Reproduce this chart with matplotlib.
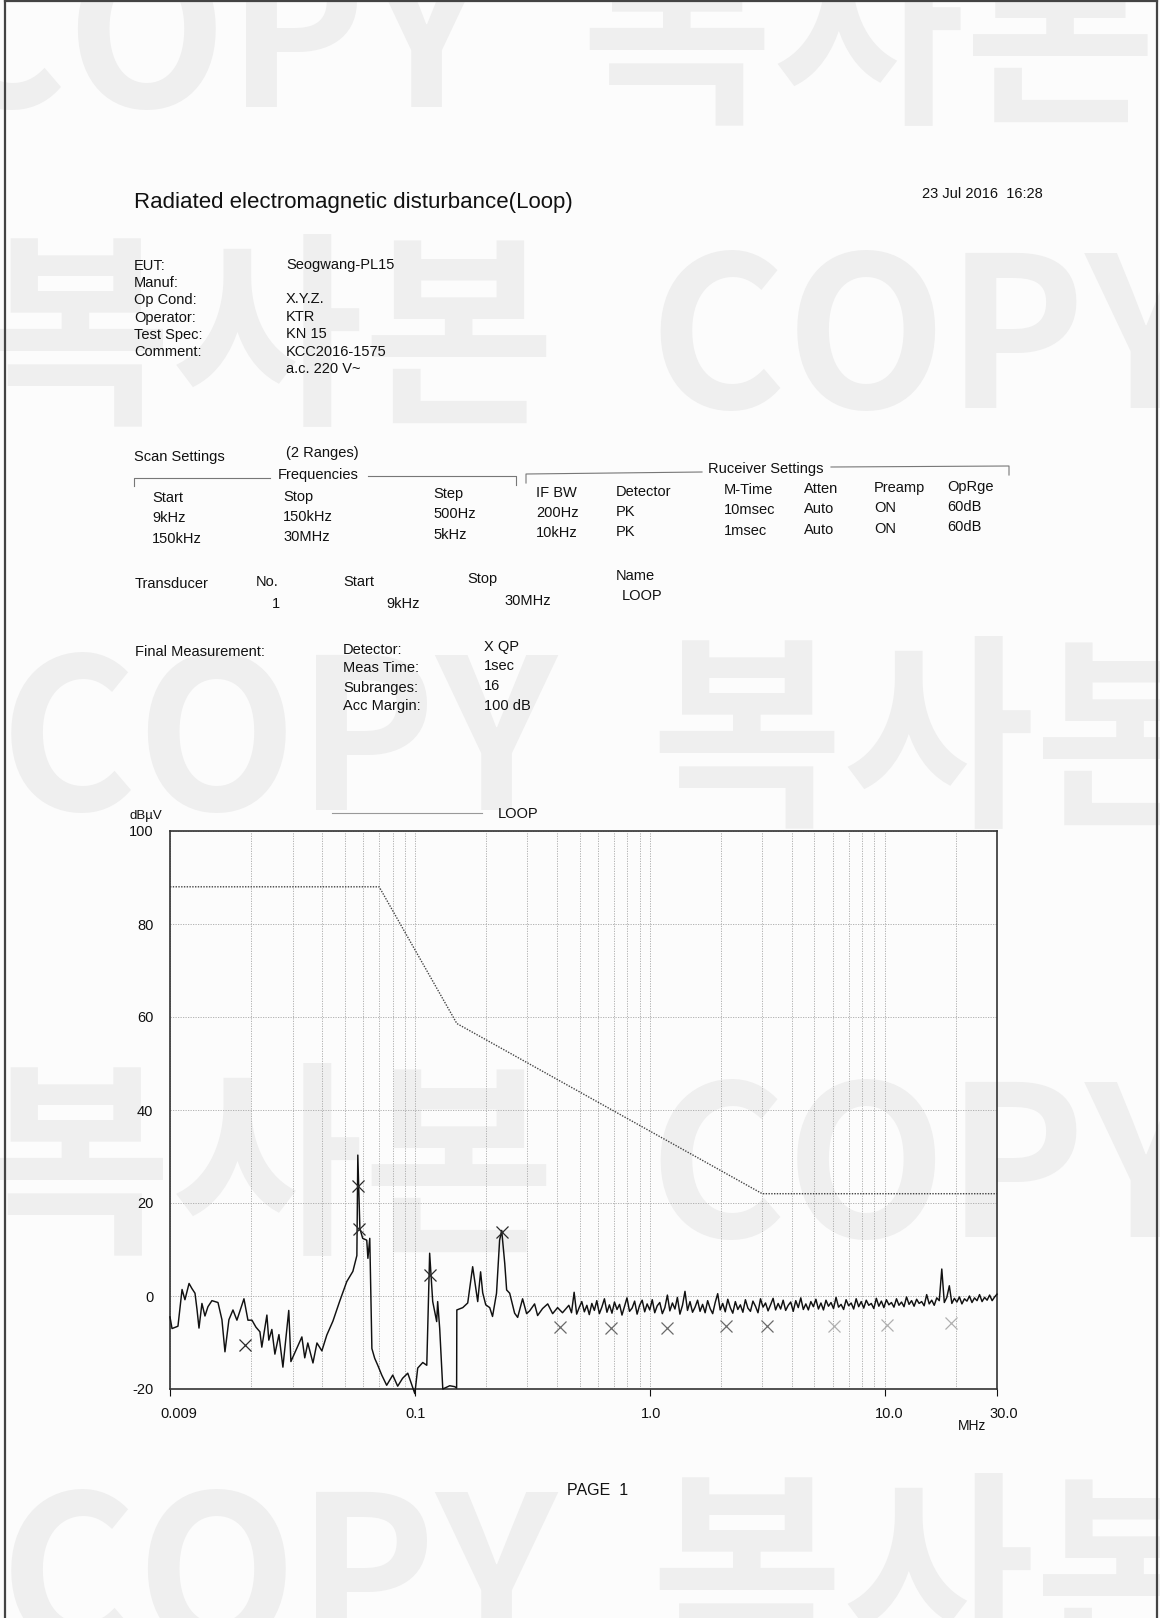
import matplotlib
matplotlib.use("Agg")
import numpy as np
import matplotlib.pyplot as plt
from matplotlib.lines import Line2D
from matplotlib.ticker import FixedLocator, LogLocator, NullFormatter
from matplotlib.transforms import ScaledTranslation

W, H = 1160, 1618
FONT = "Liberation Sans"

# receiver trace, range 1 (9 kHz - 150 kHz), PK detector
scan1_khz = [9.0, 9.18, 9.73, 10.13, 10.42, 10.85, 11.16, 11.5, 11.73, 11.96,
             12.31, 12.68, 13.06, 13.58, 14.41, 14.98, 15.43, 16.04, 16.69, 17.35,
             18.59, 19.33, 20.11, 20.91, 21.74, 22.15, 23.28, 23.72, 24.44, 25.18,
             26.2, 27.24, 28.85, 29.46, 30.93, 32.81, 33.75, 34.78, 36.58, 38.04,
             39.92, 41.9, 44.49, 47.56, 50.96, 54.11, 56.27, 56.79, 57.96, 59.58,
             62.0, 62.7, 63.86, 65.2, 67.02, 69.07, 71.82, 75.38, 80.01, 83.97,
             88.11, 92.7, 99.36, 102.2, 107.4, 111.7, 114.9, 118.4, 123.1, 124.3,
             126.8, 130.7, 139.9, 147.0, 149.7]
scan1_dbuv = [-4.5, -7.0, -6.5, 1.4, -0.8, 2.7, 1.6, 0.6, -2.9, -6.9,
              -1.6, -4.3, -2.3, -1.0, -1.4, -5.1, -12.0, -5.1, -3.0, -5.2,
              -0.6, -5.2, -5.2, -6.7, -7.7, -11.0, -4.1, -9.5, -7.2, -12.5,
              -8.3, -15.3, -3.1, -14.1, -11.7, -8.8, -13.3, -10.1, -14.4, -10.1,
              -11.8, -8.4, -5.4, -1.1, 3.1, 5.3, 8.7, 30.3, 14.5, 12.4,
              12.0, 8.1, 12.4, -11.3, -13.4, -14.9, -17.0, -19.2, -17.0, -19.4,
              -17.7, -16.6, -21.0, -15.5, -14.3, -14.9, 9.2, -1.2, -5.5, -1.2,
              -7.0, -20.0, -19.3, -19.5, -19.8]

# receiver trace, range 2 (150 kHz - 30 MHz), PK detector
scan2_khz = [150.0, 159.0, 166.9, 175.2, 182.2, 184.1, 189.4, 193.3, 199.2, 207.1,
             212.9, 221.4, 228.2, 232.9, 240.0, 244.5, 251.9, 264.4, 272.4, 285.9,
             297.4, 306.4, 321.6, 331.3, 347.8, 365.8, 383.9, 403.0, 422.9,
             450, 462, 474, 486, 498, 511, 524, 537, 550, 564,
             578, 592, 607, 622, 638, 654, 670, 687, 704, 722,
             740, 758, 777, 796, 816, 837, 858, 879, 901, 924,
             947, 970, 995, 1020, 1045, 1071, 1098, 1126, 1154, 1183,
             1212, 1243, 1274, 1305, 1338, 1372, 1406, 1441, 1477, 1514,
             1552, 1591, 1630, 1671, 1713, 1756, 1800, 1845, 1891, 1938,
             1986, 2036, 2087, 2139, 2193, 2247, 2304, 2361, 2420, 2481,
             2543, 2606, 2672, 2738, 2807, 2877, 2949, 3023, 3098, 3176,
             3255, 3337, 3420, 3506, 3593, 3683, 3775, 3870, 3966, 4066,
             4167, 4271, 4378, 4488, 4600, 4715, 4833, 4954, 5078, 5205,
             5335, 5468, 5605, 5745, 5889, 6036, 6187, 6342, 6500, 6663,
             6829, 7000, 7175, 7354, 7538, 7727, 7920, 8118, 8321, 8529,
             8742, 8961, 9185, 9415, 9650, 9891, 10139, 10392, 10652, 10918,
             11191, 11471, 11758, 12052, 12353, 12662, 12978, 13303, 13635, 13976,
             14326, 14684, 15051, 15427, 15813, 16208, 16613, 17029, 17455, 17891,
             18338, 18797, 19266, 19748, 20242, 20748, 21267, 21798, 22343, 22902,
             23474, 24061, 24663, 25279, 25911, 26559, 27223, 27904, 28601, 29316,
             30000]
scan2_dbuv = [-3.0, -2.5, -1.5, 6.3, 0.3, -1.2, 5.2, 0.7, -1.9, -2.5,
              -4.4, 0.6, 12.0, 14.1, 7.0, 1.3, 0.6, -3.7, -4.6, -0.6,
              -3.8, -3.2, -1.7, -4.2, -2.7, -1.7, -3.8, -2.5, -3.6,
              -2.0, -3.6, 0.8, -3.9, -2.5, -1.2, -3.4, -2.0, -4.0, -1.6,
              -3.1, -1.0, -3.8, -2.4, -0.6, -3.5, -1.9, -3.7, -1.3, -2.9,
              -1.8, -4.1, -2.2, -0.4, -3.3, -2.6, -1.1, -3.9, -2.0, -0.9,
              -3.4, -1.7, -3.0, -0.8, -3.6, -2.1, -1.4, -3.8, -2.5, 0.2,
              -3.2, -1.5, -2.8, -0.3, -3.9, -2.0, 1.0, -3.1, -1.2, -3.5,
              -2.4, -0.9, -3.3, -1.8, -3.6, -1.0, -2.7, -3.8, -1.4, 0.5,
              -3.0, -1.6, -3.4, -0.7, -2.5, -3.7, -1.2, -2.9, -1.9, -3.5,
              -0.8, -2.6, -3.3, -1.1, -2.2, -3.6, -0.6, -2.4, -1.5, -3.2,
              -1.9, -0.5, -3.0, -1.6, -2.8, -0.9, -3.1, -2.0, -1.3, -3.3,
              -1.0, -2.5, -0.4, -2.9, -1.7, -3.0, -1.2, -2.3, -0.7, -2.8,
              -1.5, -3.0, -0.9, -2.2, -1.4, -2.7, -0.3, -2.4, -1.8, -2.9,
              -0.8, -2.1, -1.5, -2.8, -0.6, -2.3, -1.2, -2.6, -0.9, -2.0,
              -1.6, -2.7, -0.5, -2.2, -1.1, -2.5, -0.8, -1.9, -1.4, -2.4,
              -0.6, -2.0, -1.3, -2.3, -0.2, -1.8, -1.0, -2.2, -0.7, -1.6,
              -1.2, -2.1, 0.3, -1.7, -0.9, -2.0, -0.4, -1.0, 5.8, -1.4,
              -0.3, 2.2, -1.6, -0.5, -1.3, -0.2, -1.7, -0.6, -1.1, 0.0,
              -1.4, -0.4, -1.0, 0.3, -1.2, -0.3, -0.9, 0.2, -1.0, -0.2,
              0.4]

# limit line (LOOP)
limit_khz = [9, 70, 150, 3000, 30000]
limit_dbuv = [88, 88, 58.6, 22, 22]

# final measurement, QP detector
qp_khz = [18.8, 56.8, 57.5, 115, 233, 411, 678, 1180, 2110, 3150, 6080, 10200, 19100]
qp_dbuv = [-10.5, 23.6, 14.5, 4.6, 13.7, -6.7, -6.8, -6.8, -6.5, -6.4, -6.4, -6.3, -5.9]

x_tick_mhz = [0.009, 0.1, 1, 10, 30]
x_tick_labels = ["0.009", "0.1", "1.0", "10.0", "30.0"]
y_ticks = [-20, 0, 20, 40, 60, 80, 100]

eut_labels = ["EUT:", "Manuf:", "Op Cond:", "Operator:", "Test Spec:", "Comment:"]
eut_values = ["Seogwang-PL15", "", "X.Y.Z.", "KTR", "KN 15", "KCC2016-1575", "a.c. 220 V~"]

scan_header = ["Start", "Stop", "Step", "IF BW", "Detector", "M-Time", "Atten", "Preamp", "OpRge"]
scan_rows = [["9kHz", "150kHz", "500Hz", "200Hz", "PK", "10msec", "Auto", "ON", "60dB"],
             ["150kHz", "30MHz", "5kHz", "10kHz", "PK", "1msec", "Auto", "ON", "60dB"]]

final_labels = ["Detector:", "Meas Time:", "Subranges:", "Acc Margin:"]
final_values = ["X QP", "1sec", "16", "100 dB"]

watermark_rows = [("COPY  복사본", -70, 45), ("복사본  COPY", -20, 346),
                  ("COPY  복사본", 0, 748), ("복사본  COPY", -20, 1175),
                  ("COPY  복사본", 0, 1585)]

fig = plt.figure(figsize=(W / 100, H / 100), dpi=100)
fig.patch.set_facecolor("#fcfcfc")


def put(x, y, s, size=10.5, ha="left", **kw):
    fig.text(x / W, 1 - y / H, s, fontsize=size, ha=ha, va="center_baseline",
             family=FONT, color="#111111", **kw)


def seg(xs, ys, color="#777777", lw=0.8):
    fig.add_artist(Line2D([x / W for x in xs], [1 - y / H for y in ys],
                          color=color, lw=lw))


# background watermark
for text, x, y in watermark_rows:
    fig.text(x / W, 1 - y / H, text, fontsize=150, fontweight="bold", ha="left",
             va="center", color="#efefef", zorder=-5,
             family=["Noto Sans CJK KR", "DejaVu Sans"])

# page frame
seg([5, 5], [1618, 1], color="#444444", lw=1.6)
seg([5, 1157], [1, 1], color="#444444", lw=1.6)
seg([1157, 1157], [1, 1618], color="#444444", lw=1.6)

# header
put(134, 200, "Radiated electromagnetic disturbance(Loop)", size=16)
put(922, 192, "23 Jul 2016  16:28", size=10.5)

for i, lab in enumerate(eut_labels):
    put(134, 264 + 17.4 * i, lab)
for i, val in enumerate(eut_values):
    if val:
        put(286, 263 + 17.4 * i, val)

# scan settings block
put(134, 455, "Scan Settings")
put(286, 451, "(2 Ranges)")
put(278, 474, "Frequencies")
put(708, 467, "Ruceiver Settings")
seg([134, 134, 270], [486, 478, 478])
seg([368, 516, 516], [476, 476, 485])
seg([526, 526, 702], [483, 474, 472])
seg([831, 1009, 1009], [467, 466, 475])

col_x = [152, 283, 433, 536, 616, 724, 804, 874, 947]
for j, x in enumerate(col_x):
    dy = (x - 152) * 0.0145
    put(x, 497 - dy, scan_header[j])
    for r, row in enumerate(scan_rows):
        put(x, 517 + 20.5 * r - dy, row[j])

# transducer
put(135, 583, "Transducer")
put(256, 580, "No.")
put(272, 602, "1")
put(343, 580, "Start")
put(386, 602, "9kHz")
put(467, 578, "Stop")
put(504, 599, "30MHz")
put(616, 575, "Name")
put(622, 595, "LOOP")

# final measurement
put(135, 651, "Final Measurement:")
for i, lab in enumerate(final_labels):
    put(343, 648 + 19 * i, lab)
for i, val in enumerate(final_values):
    put(484, 645 + 20 * i, val)

# spectrum plot
ax = fig.add_axes([170 / W, 1 - 1389 / H, 827 / W, 558 / H])
ax.patch.set_alpha(0)
ax.set_xscale("log")
ax.set_xlim(0.009, 30)
ax.set_ylim(-20, 100)

ax.xaxis.set_major_locator(FixedLocator(x_tick_mhz))
ax.set_xticklabels(x_tick_labels, family=FONT, fontsize=10.5)
ax.xaxis.set_minor_locator(LogLocator(base=10, subs=np.arange(2, 10), numticks=20))
ax.xaxis.set_minor_formatter(NullFormatter())
ax.set_yticks(y_ticks)
ax.set_yticklabels([str(v) for v in y_ticks], family=FONT, fontsize=10.5)
ax.tick_params(axis="x", which="major", length=5, width=0.8, pad=8, colors="#111111")
ax.tick_params(axis="x", which="minor", length=0)
ax.tick_params(axis="y", length=0, pad=12, colors="#111111")

# nudge the outer x labels the way the printout sets them
shifts = [9, 0, 1, 4, 7]
for lab, dx in zip(ax.get_xticklabels(), shifts):
    lab.set_transform(lab.get_transform() + ScaledTranslation(dx / 100, 0, fig.dpi_scale_trans))

ax.grid(True, which="both", axis="x", color="#a8a8a8", lw=0.6, ls=(0, (1.5, 1.5)))
ax.grid(True, which="major", axis="y", color="#a8a8a8", lw=0.6, ls=(0, (1.5, 1.5)))
for sp in ax.spines.values():
    sp.set_color("#333333")
    sp.set_linewidth(1.2)

freq_mhz = np.array(scan1_khz + scan2_khz) / 1000.0
level = np.array(scan1_dbuv + scan2_dbuv)
ax.plot(freq_mhz, level, color="#111111", lw=1.05, clip_on=False, zorder=3)

ax.plot(np.array(limit_khz) / 1000.0, limit_dbuv, color="#444444", lw=1.0,
        ls=(0, (1, 1)), zorder=2)

qp_mhz = np.array(qp_khz) / 1000.0
ax.plot(qp_mhz[:5], qp_dbuv[:5], ls="none", marker="x", ms=9, mew=0.9,
        color="#2a2a2a", zorder=4)
ax.plot(qp_mhz[5:10], qp_dbuv[5:10], ls="none", marker="x", ms=9, mew=0.9,
        color="#6a6a6a", zorder=4)
ax.plot(qp_mhz[10:], qp_dbuv[10:], ls="none", marker="x", ms=9, mew=0.9,
        color="#b0b0b0", zorder=4)

put(129, 815, "dB\u00b5V", size=9.5)
put(958, 1424, "MHz", size=10)

# legend for the limit line
seg([332, 482], [813, 813], color="#999999", lw=0.8)
put(498, 813, "LOOP", size=10.5)

put(567, 1489, "PAGE  1", size=11.5)

fig.savefig("out.png", dpi=100, facecolor=fig.get_facecolor())
